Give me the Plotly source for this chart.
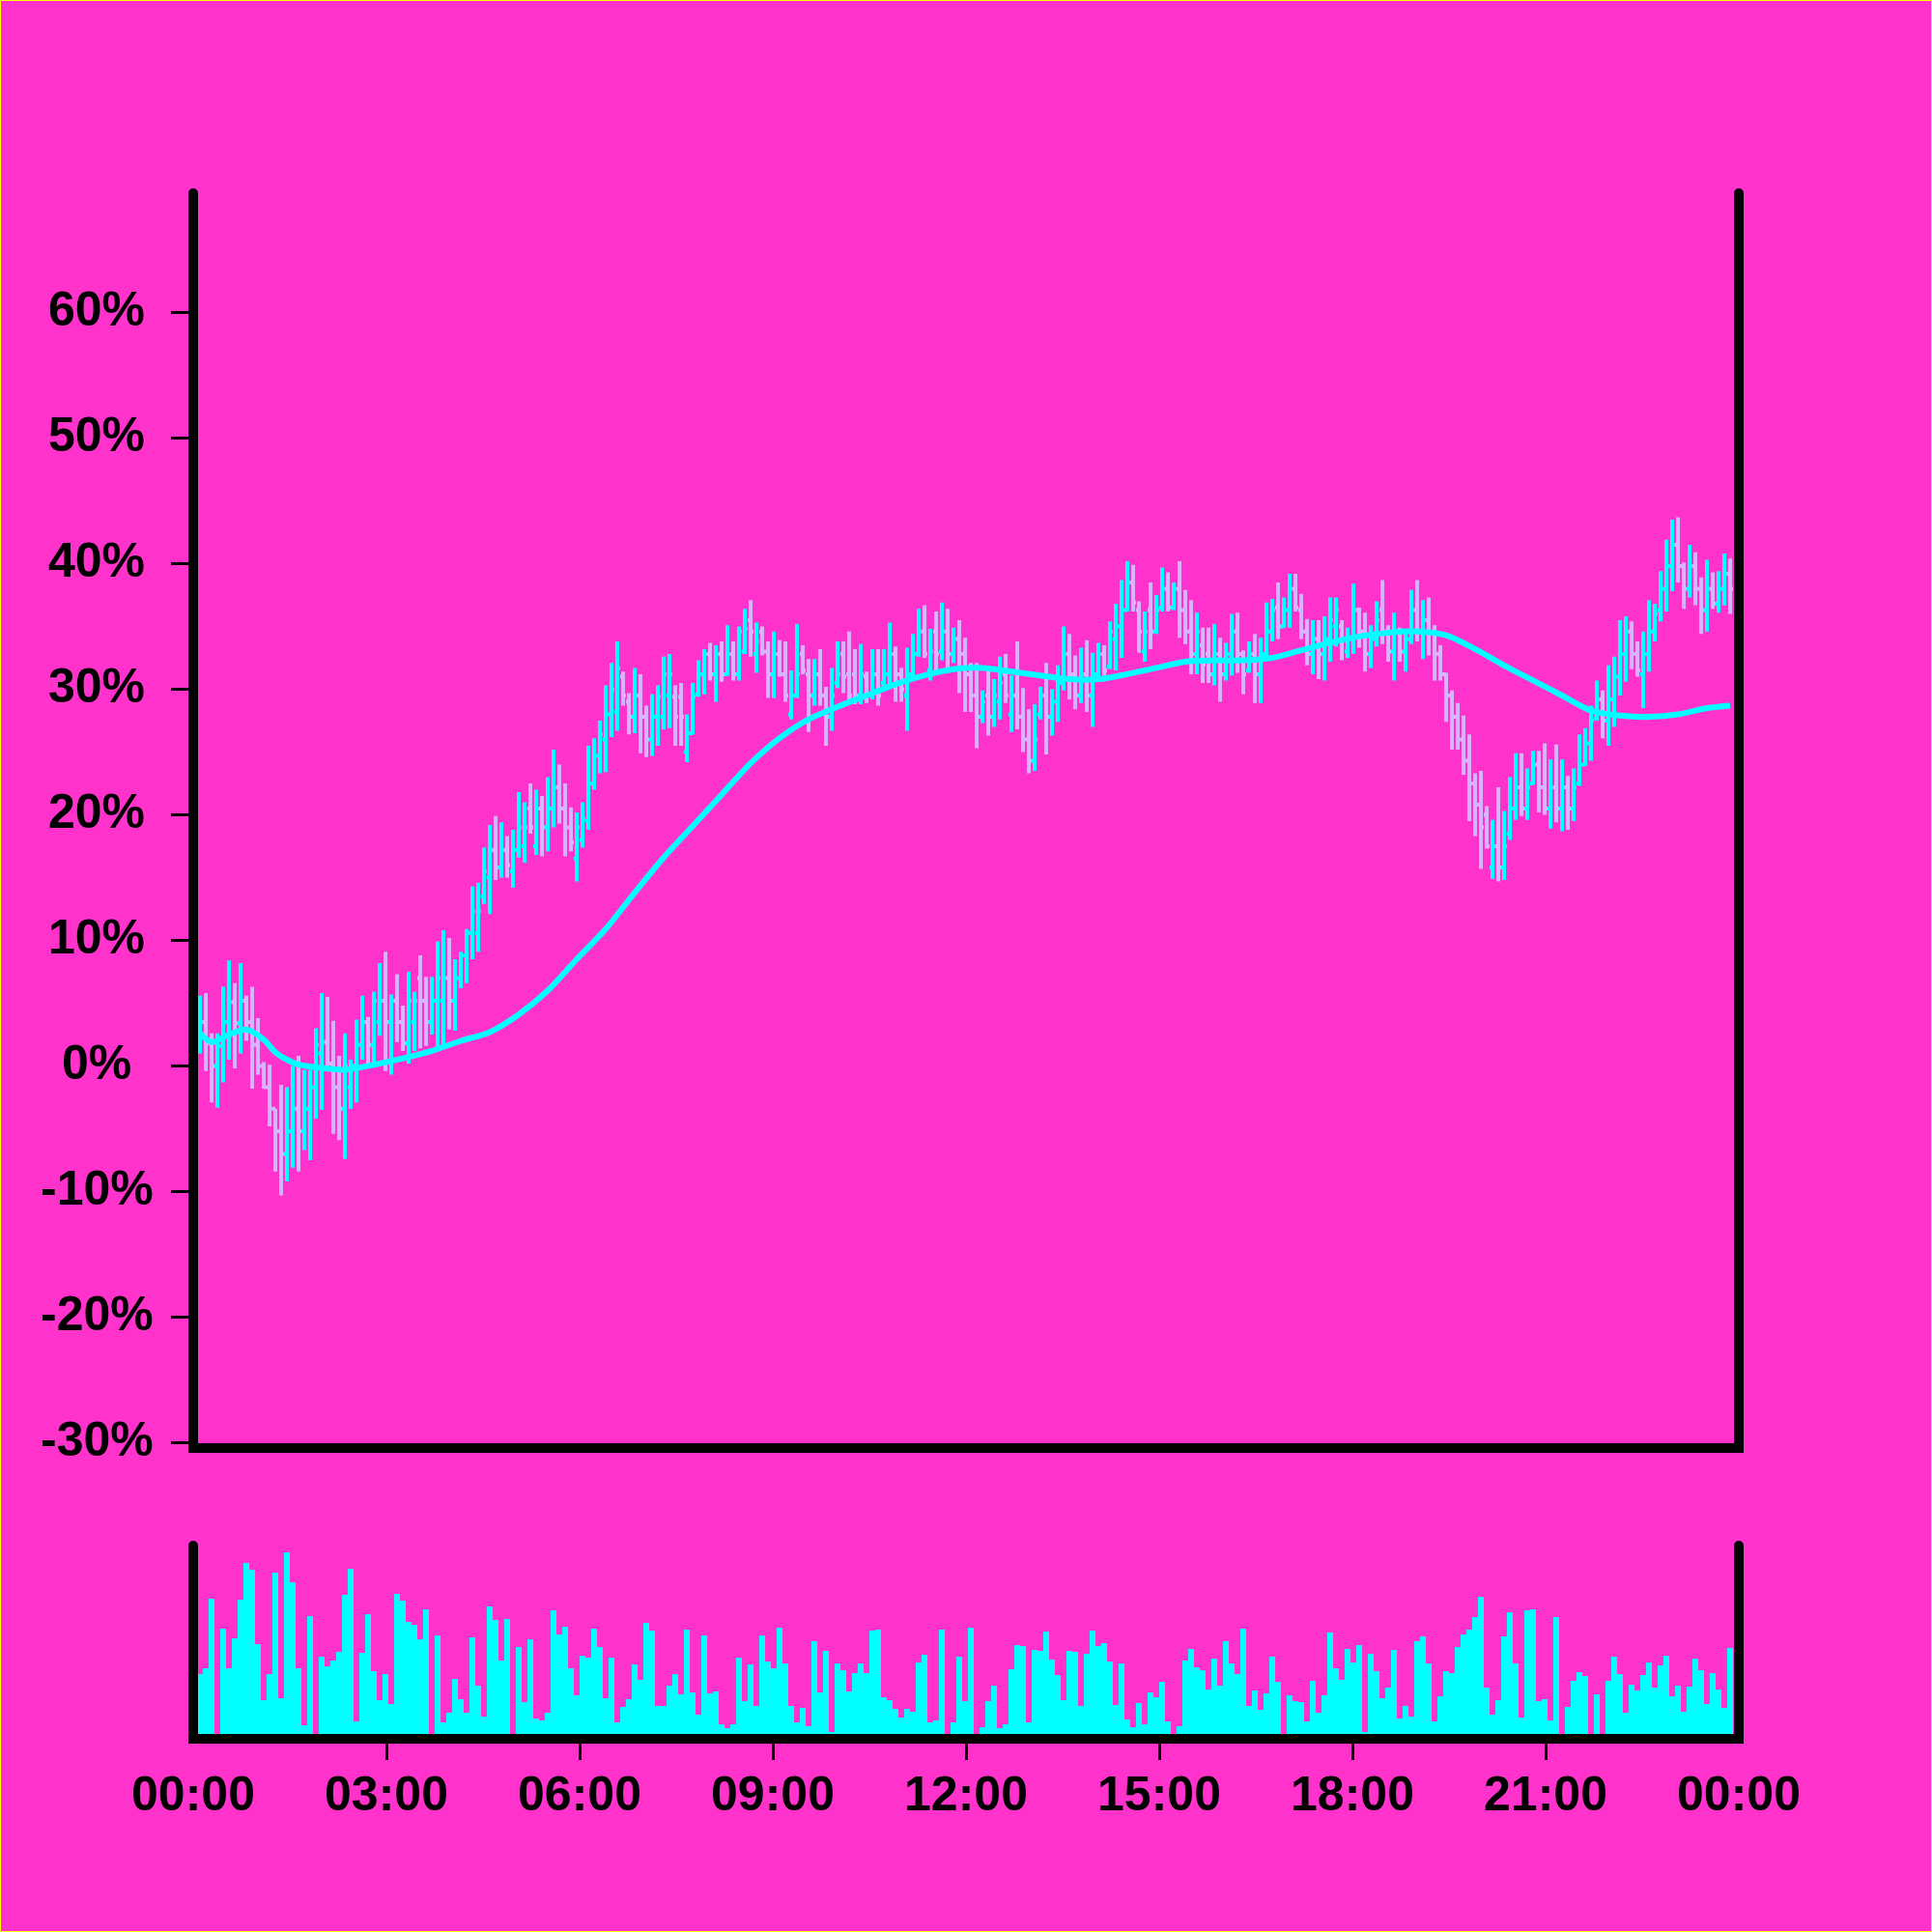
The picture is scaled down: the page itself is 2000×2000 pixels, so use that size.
import plotly.graph_objects as go
import pandas as pd

# ---------------- data (percent values) ----------------
bar_start = "2024-01-01 00:06:18"
bar_step_seconds = 324

opens = [2.0,3.5,1.8,0.0,1.6,3.5,5.1,3.4,5.2,3.5,1.7,0.0,-1.7,-3.4,-5.2,-7.0,-5.2,-3.4,-5.2,-3.4,
         -1.7,1.0,1.9,0.2,-1.7,-3.4,-1.7,0.0,1.7,3.5,1.7,3.5,5.2,3.5,5.2,3.5,1.8,3.5,7.0,5.2,
         3.5,5.2,5.2,7.0,5.2,7.0,8.8,10.6,10.6,13.5,15.0,17.2,15.8,17.2,15.5,17.2,17.5,20.5,17.5,20.5,
         19.0,20.5,22.2,20.5,19.0,16.5,18.0,19.5,22.5,24.7,26.0,28.0,28.2,31.0,29.0,27.8,29.5,27.8,26.0,27.8,
         27.8,29.5,29.4,29.4,25.0,26.5,29.6,31.2,32.8,31.2,32.8,31.2,32.8,31.2,33.0,35.5,32.8,34.6,33.0,31.2,
         32.8,31.2,28.0,29.5,32.8,31.2,29.5,31.2,29.5,27.8,30.5,32.8,31.2,31.2,29.5,31.0,29.5,31.2,30.5,31.2,
         32.8,31.2,29.5,31.2,32.8,34.6,31.5,34.6,33.0,34.6,32.8,34.0,32.8,31.2,29.5,27.8,29.5,27.8,29.0,31.2,
         28.0,29.5,27.8,26.0,24.3,28.0,29.5,27.8,29.0,30.5,32.8,31.2,29.5,31.2,29.5,31.2,32.8,31.8,34.0,35.0,
         36.3,38.5,36.3,33.0,36.3,34.6,36.5,38.0,36.5,38.0,36.3,34.6,32.8,33.5,32.8,31.2,32.8,31.2,32.8,34.6,
         32.8,31.5,32.8,31.2,32.8,34.6,36.5,35.0,36.3,38.0,36.3,34.6,32.8,34.0,32.8,34.0,35.0,35.0,33.0,34.0,
         36.3,34.6,32.8,34.0,36.3,34.6,33.0,34.6,33.0,34.0,36.3,34.6,35.5,34.6,32.8,31.2,29.5,27.8,26.0,24.3,
         22.5,20.8,20.0,15.8,17.5,15.8,18.5,20.5,22.2,20.5,22.5,24.0,22.2,20.5,22.2,20.5,22.2,20.5,22.5,24.0,
         25.7,27.7,29.2,27.5,29.2,31.0,32.8,34.6,32.8,31.2,32.8,34.6,36.3,38.0,39.8,41.5,39.8,38.0,39.8,38.0,
         36.3,38.0,36.8,38.0,39.2]
highs = [5.6,5.8,2.6,2.6,6.3,8.4,6.6,8.2,5.6,6.3,3.8,0.3,0.1,-3.4,-1.5,-1.7,0.0,0.8,-0.3,-0.3,
         3.0,5.8,5.5,3.6,0.8,2.6,0.5,3.7,5.6,3.9,5.9,8.2,9.1,5.7,7.3,4.8,7.5,5.9,8.8,7.1,
         7.1,9.9,10.8,10.2,8.5,9.1,10.9,14.3,14.6,17.4,19.2,19.9,19.4,18.3,18.8,21.8,21.0,22.5,22.0,21.5,
         23.0,25.2,24.0,22.5,20.6,20.2,21.0,25.5,26.1,27.5,30.3,32.1,33.8,31.4,29.7,31.7,31.2,28.7,29.6,30.3,
         32.6,32.8,30.3,30.5,28.0,30.5,32.3,33.2,33.7,33.5,33.8,35.1,33.8,35.0,36.4,37.1,35.3,35.0,33.8,34.6,
         33.9,33.8,31.5,35.2,33.5,32.4,32.4,33.2,30.2,31.7,33.8,33.8,34.6,33.2,33.6,31.4,33.2,33.2,33.2,35.3,
         33.4,31.7,33.3,34.4,36.4,36.7,34.8,36.2,36.9,36.4,34.9,35.5,34.1,32.1,32.1,29.9,31.5,30.8,32.6,32.8,
         31.1,33.8,30.1,28.4,28.8,30.2,32.1,30.0,31.9,35.0,34.4,32.7,33.3,33.9,32.9,33.7,33.5,35.4,36.8,38.7,
         40.2,39.9,37.0,36.2,38.5,37.5,39.7,39.3,38.5,40.2,37.9,37.1,36.1,34.9,34.9,35.2,34.1,33.7,36.0,36.1,
         33.1,33.8,34.4,34.1,36.9,37.2,38.5,37.3,39.2,39.2,37.6,35.6,35.5,35.5,35.8,37.3,37.3,35.5,34.9,38.4,
         36.5,36.1,35.1,37.0,38.7,35.1,36.1,34.9,34.8,37.9,38.7,37.1,37.3,35.1,33.5,31.3,29.9,28.9,27.9,26.4,
         23.3,23.5,20.7,19.6,22.2,20.3,23.0,24.9,24.9,23.7,25.1,25.1,25.7,24.4,25.6,24.4,23.1,23.7,26.4,26.9,
         28.7,30.7,29.9,31.9,32.6,35.5,35.8,35.4,33.8,34.6,37.1,36.8,39.4,41.9,43.5,43.7,40.1,41.5,40.9,38.9,
         40.3,39.3,39.4,40.8,40.4]
lows = [1.0,-0.4,-2.9,-3.3,-1.3,0.5,-0.2,1.0,2.0,-1.8,-0.7,-1.8,-4.8,-8.4,-10.3,-9.2,-8.1,-8.4,-6.7,-7.5,
        -4.2,-3.5,0.0,-5.4,-5.9,-7.4,-3.4,-2.9,0.5,-0.2,0.1,2.4,-0.4,-0.7,1.9,1.2,0.2,1.2,1.4,1.6,
        2.5,1.5,1.5,2.9,2.8,6.2,6.6,8.5,9.1,12.9,12.1,14.8,15.0,15.0,14.2,16.6,16.2,18.5,16.8,16.7,
        17.1,19.0,19.3,16.7,17.1,14.7,17.4,18.8,22.0,23.3,23.4,26.2,26.7,28.7,26.4,26.5,24.9,24.6,24.7,25.5,
        26.8,26.9,25.5,25.5,24.2,26.4,29.4,29.6,30.7,29.0,30.6,31.1,30.7,30.7,32.8,32.6,31.3,32.7,29.3,29.3,
        31.0,29.0,27.6,29.3,31.2,26.6,28.7,28.7,25.5,26.7,30.1,29.7,29.0,28.8,28.8,28.9,29.2,28.7,29.8,30.2,
        29.0,29.0,26.7,30.8,32.6,32.5,30.7,31.4,32.3,31.4,32.1,29.7,28.2,28.2,25.3,27.3,26.3,27.0,27.6,28.9,
        26.6,26.8,25.0,23.3,23.5,27.6,24.8,26.3,27.4,29.9,29.2,28.4,28.9,28.2,27.0,30.6,31.1,31.6,31.5,32.5,
        36.2,36.2,32.9,32.2,33.2,34.4,36.2,36.2,36.3,34.1,33.6,31.2,31.2,30.5,30.5,30.3,29.0,30.7,31.1,31.3,
        29.6,31.3,28.9,28.9,32.5,33.8,34.0,34.9,34.9,36.2,34.0,31.9,31.2,30.8,30.7,32.2,33.4,32.3,32.5,32.8,
        33.3,31.4,31.7,33.4,33.6,32.2,30.7,32.2,31.4,33.6,33.8,32.4,32.7,30.7,30.7,27.4,25.2,25.2,23.2,19.5,
        18.3,15.7,17.3,14.9,14.7,14.8,18.0,19.6,19.9,19.6,22.4,20.2,20.0,18.9,19.4,18.7,18.8,19.5,22.3,23.9,
        24.3,27.5,26.1,25.5,27.0,29.5,30.6,31.6,31.0,28.5,31.4,33.8,35.4,36.2,37.8,38.5,36.4,37.3,36.7,34.4,
        34.6,36.4,36.1,36.7,36.0]
closes = [3.5,1.8,0.0,1.6,3.5,5.1,3.4,5.2,3.5,1.7,0.0,-1.7,-3.4,-5.2,-7.0,-5.2,-3.4,-5.2,-3.4,-1.7,
          1.7,1.9,0.2,-1.7,-3.4,0.0,0.0,1.7,3.5,1.7,5.2,5.2,3.5,5.2,3.5,1.8,5.2,5.2,5.2,3.5,
          5.2,7.0,7.0,5.2,7.0,8.8,10.6,12.3,12.3,15.5,17.2,15.8,17.2,16.0,17.2,19.0,19.0,19.0,20.5,19.0,
          20.5,22.2,20.5,19.0,17.8,19.0,19.7,22.5,24.7,26.4,28.0,30.0,31.7,29.5,27.8,29.5,27.8,26.0,27.8,29.4,
          31.2,31.2,27.8,27.8,26.5,29.4,31.2,32.8,31.2,32.8,31.2,32.8,31.2,34.6,34.8,34.6,33.8,33.0,31.2,32.8,
          31.2,29.5,29.5,31.2,31.5,29.5,31.2,29.5,27.8,29.5,31.2,31.0,29.5,29.5,31.2,29.5,31.2,29.5,31.2,32.8,
          31.2,30.0,31.2,32.8,34.6,32.8,33.0,32.8,34.6,32.8,34.0,32.8,31.2,29.5,27.8,29.0,27.8,29.5,30.5,29.5,
          29.5,27.8,26.0,24.3,26.0,29.5,27.8,29.0,30.5,32.8,31.2,29.5,31.2,29.5,31.2,32.8,31.5,34.6,35.0,36.3,
          38.5,36.9,34.6,34.6,34.6,36.3,38.0,36.5,38.0,36.3,34.6,32.8,34.6,32.0,31.2,32.8,31.2,32.8,34.6,32.8,
          31.2,32.8,31.2,32.8,34.6,36.3,35.0,36.3,38.0,36.5,34.6,32.8,34.0,32.8,34.0,35.5,36.3,34.0,34.0,36.3,
          34.6,32.8,34.0,35.5,34.6,33.0,34.6,33.0,34.0,36.3,34.6,35.5,34.6,32.8,31.2,29.5,27.8,26.0,24.3,22.5,
          20.8,19.0,17.5,17.5,15.8,17.5,20.5,22.2,20.5,22.2,24.0,22.2,20.5,22.2,20.5,22.2,20.5,22.2,24.0,25.7,
          27.5,29.2,27.5,29.2,31.0,32.8,34.6,32.8,31.5,32.8,34.6,36.0,38.0,39.8,41.5,39.8,38.0,39.8,38.0,36.3,
          38.0,36.8,38.0,39.2,38.0]
volumes = [67,73,145,0,114,73,104,144,182,175,98,40,67,172,42,193,162,73,14,127,
           0,85,75,81,90,149,176,18,89,129,70,40,67,36,150,143,121,118,103,134,
           0,107,17,27,62,41,27,105,55,23,137,123,81,124,0,95,38,103,21,19,
           27,133,108,116,73,45,86,84,114,95,42,84,17,33,41,77,61,120,112,34,
           34,55,67,46,113,48,25,107,47,49,15,11,15,84,39,77,34,107,80,73,
           115,78,34,17,32,13,101,48,91,7,78,71,49,68,78,68,112,113,43,40,
           31,22,31,28,79,87,17,19,113,0,17,85,39,115,0,12,39,55,11,15,
           72,97,96,17,92,91,111,82,66,40,91,90,34,88,112,96,99,80,35,78,
           20,12,37,15,48,43,59,18,0,13,81,93,74,71,51,83,55,101,78,67,
           114,34,50,30,47,85,59,0,45,39,38,18,60,27,45,110,73,61,93,79,
           97,7,88,70,42,53,92,21,34,23,101,106,78,18,44,70,68,95,108,113,
           126,147,53,25,40,106,131,78,22,133,134,39,41,19,126,0,33,60,69,65,
           0,46,0,60,85,67,27,56,50,66,79,53,76,86,44,55,28,54,83,71,
           36,68,51,32,94]

# moving average line, read at selected bar indices
ma_idx = [0,2,5,8,11,13,15,17,20,25,30,35,40,45,50,55,60,65,70,75,80,85,90,95,100,105,110,115,120,
          125,130,135,140,145,150,155,160,165,170,175,180,185,190,195,200,205,210,215,220,225,230,
          235,240,245,250,255,260,264]
ma_val = [2.6,1.9,2.5,2.9,2.1,1.1,0.5,0.1,-0.1,-0.3,0.1,0.6,1.2,2.0,2.7,4.1,6.0,8.5,10.9,13.8,16.6,19.1,
          21.6,24.1,26.1,27.6,28.6,29.5,30.4,31.1,31.6,31.7,31.4,31.1,30.8,30.8,31.2,31.7,32.2,32.3,32.3,
          32.5,33.1,33.7,34.2,34.5,34.6,34.3,33.2,31.9,30.7,29.5,28.3,27.9,27.8,28.0,28.5,28.7]

y_ticks = [-30, -20, -10, 0, 10, 20, 30, 40, 50, 60]
x_tick_times = ["2024-01-01 00:00", "2024-01-01 03:00", "2024-01-01 06:00", "2024-01-01 09:00",
                "2024-01-01 12:00", "2024-01-01 15:00", "2024-01-01 18:00", "2024-01-01 21:00",
                "2024-01-02 00:00"]
x_tick_labels = ["00:00", "03:00", "06:00", "09:00", "12:00", "15:00", "18:00", "21:00", "00:00"]

# ---------------- style ----------------
BG = "#FF33CC"
UP = "#00FFFF"
DOWN = "#D8B4FE"
FONT = "Liberation Sans"
W = 2000
M = 200                       # margin on every side
PW = W - 2 * M                # plot area size (1600 px)


def px_x(px):
    return (px - M) / PW


def px_y(py):
    return (W - M - py) / PW


n = len(opens)
times = pd.date_range(bar_start, periods=n, freq=f"{bar_step_seconds}s")
ma_times = [times[i] for i in ma_idx]

fig = go.Figure()
fig.add_trace(go.Ohlc(
    x=times, open=opens, high=highs, low=lows, close=closes,
    increasing=dict(line=dict(color=UP, width=4)),
    decreasing=dict(line=dict(color=DOWN, width=4)),
    tickwidth=0.5, xaxis="x", yaxis="y", showlegend=False, hoverinfo="skip"))
fig.add_trace(go.Scatter(
    x=ma_times, y=ma_val, mode="lines",
    line=dict(color=UP, width=6, shape="spline", smoothing=0.8),
    xaxis="x", yaxis="y", showlegend=False, hoverinfo="skip"))
fig.add_trace(go.Bar(
    x=times, y=volumes, marker=dict(color=UP, line=dict(width=0)),
    xaxis="x2", yaxis="y2", showlegend=False, hoverinfo="skip"))

main_bottom = px_y(1493.5)
fig.update_layout(
    width=W, height=W,
    margin=dict(l=M, r=M, t=M, b=M, pad=0),
    paper_bgcolor=BG, plot_bgcolor=BG,
    showlegend=False, hovermode=False, bargap=0,
    xaxis=dict(domain=[0, 1], anchor="free", position=0, matches="x2", type="date",
               showline=False, showgrid=False, zeroline=False,
               tickvals=x_tick_times, ticktext=x_tick_labels, ticks="",
               ticklabelstandoff=23,
               tickfont=dict(family=FONT, size=50, color="black", weight="bold"),
               rangeslider=dict(visible=False)),
    yaxis=dict(domain=[main_bottom, 1], range=[-30, 69.5], anchor="x",
               showline=False, ticks="outside", tickvals=y_ticks, ticklen=22, tickwidth=3,
               tickcolor="black", showticklabels=False, showgrid=False, zeroline=False),
    xaxis2=dict(domain=[0, 1], anchor="y2", type="date",
                range=["2024-01-01 00:00", "2024-01-02 00:00"],
                showline=False, showgrid=False, zeroline=False,
                ticks="outside", tickvals=x_tick_times[1:-1], ticklen=21, tickwidth=3,
                tickcolor="black", showticklabels=False),
    yaxis2=dict(domain=[0, px_y(1600)], range=[0, 200], anchor="x2",
                showline=False, ticks="", showticklabels=False, showgrid=False, zeroline=False),
)

annotations = []
for v in y_ticks:
    annotations.append(dict(
        x=px_x(100), xref="paper", y=v, yref="y", text=f"{v}%", showarrow=False,
        xanchor="center", yanchor="middle", yshift=4,
        font=dict(family=FONT, size=50, color="black", weight="bold")))
fig.update_layout(annotations=annotations)

# frame lines (thick black axis lines)
frame = dict(color="black", width=10)
shapes = [
    # main panel: left, right, bottom
    dict(x0=px_x(200), x1=px_x(200), y0=px_y(1504), y1=px_y(200)),
    dict(x0=px_x(1800), x1=px_x(1800), y0=px_y(1504), y1=px_y(200)),
    dict(x0=px_x(195), x1=px_x(1805), y0=px_y(1499), y1=px_y(1499)),
    # volume panel: left, right, bottom
    dict(x0=px_x(200), x1=px_x(200), y0=px_y(1805), y1=px_y(1600)),
    dict(x0=px_x(1800), x1=px_x(1800), y0=px_y(1805), y1=px_y(1600)),
    dict(x0=px_x(195), x1=px_x(1805), y0=px_y(1800), y1=px_y(1800)),
]
for s in shapes:
    fig.add_shape(type="line", xref="paper", yref="paper", line=frame, layer="above", **s)

# rounded caps at the open ends of the vertical frame lines
for cx, cy in [(200, 200), (1800, 200), (200, 1600), (1800, 1600)]:
    fig.add_shape(type="circle", xref="paper", yref="paper",
                  x0=px_x(cx - 5), x1=px_x(cx + 5), y0=px_y(cy + 5), y1=px_y(cy - 5),
                  line=dict(width=0), fillcolor="black", layer="above")

# thin yellow page border
fig.add_shape(type="rect", xref="paper", yref="paper",
              x0=px_x(0), x1=px_x(W), y0=px_y(W), y1=px_y(0),
              line=dict(color="#FFFF00", width=2), fillcolor="rgba(0,0,0,0)", layer="above")

fig.write_html("out.html", config={"displayModeBar": False},
               post_script="document.body.style.margin='0px';")
